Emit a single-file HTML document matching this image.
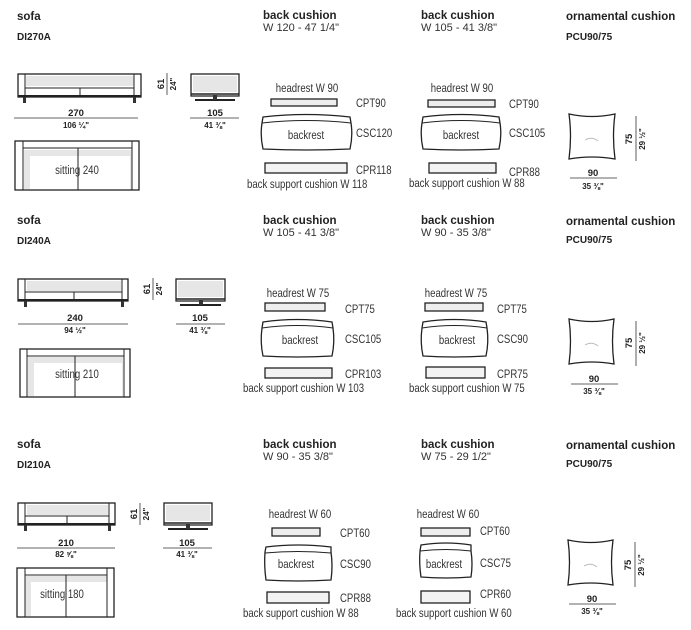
<!DOCTYPE html>
<html><head><meta charset="utf-8"><style>
html,body{margin:0;padding:0;background:#fff;}
svg{display:block;}
.h{font-family:"Liberation Sans",Arial,sans-serif;font-weight:bold;font-size:11.5px;fill:#222;}
.s{font-family:"Liberation Sans",Arial,sans-serif;font-size:11px;fill:#333;}
.n{font-family:"Liberation Sans",sans-serif;font-size:12px;fill:#333;}
.d{font-family:"Liberation Sans",Arial,sans-serif;font-weight:bold;font-size:9.5px;fill:#222;}
.ds{font-family:"Liberation Sans",Arial,sans-serif;font-weight:bold;font-size:8px;fill:#222;}
.o{fill:#fff;stroke:#222;stroke-width:1.3;}
.t{fill:none;stroke:#222;stroke-width:1;}
.g{fill:#e6e6e6;}
</style></head><body>
<svg width="691" height="630" viewBox="0 0 691 630" xmlns="http://www.w3.org/2000/svg">

<!-- ================= ROW 1 ================= -->
<text class="h" x="17" y="20">sofa</text>
<text class="d" x="17" y="40" style="font-size:10px">DI270A</text>
<rect x="18" y="74" width="123" height="23" class="o"/>
<rect x="26" y="76" width="108" height="10" class="g"/>
<line x1="25" y1="74" x2="25" y2="96" class="t" stroke-width="1.5"/>
<line x1="134" y1="74" x2="134" y2="96" class="t" stroke-width="1.5"/>
<line x1="25" y1="88" x2="134" y2="88" class="t"/>
<line x1="80" y1="88" x2="80" y2="95" class="t"/>
<line x1="18" y1="96" x2="141" y2="96" stroke="#222" stroke-width="2"/>
<rect x="23" y="97" width="3" height="6" fill="#333"/><rect x="133" y="97" width="3" height="6" fill="#333"/>
<line x1="14" y1="118" x2="138" y2="118" stroke="#333" stroke-width="0.8"/>
<text class="d" x="76" y="116" text-anchor="middle">270</text>
<text class="ds" x="76" y="128" text-anchor="middle">106 ¼"</text>
<line x1="167" y1="73" x2="167" y2="95" stroke="#333" stroke-width="0.8"/>
<text class="d" transform="translate(164,84) rotate(-90)" text-anchor="middle">61</text>
<text class="ds" transform="translate(176,84) rotate(-90)" text-anchor="middle">24"</text>
<rect x="191" y="74" width="48" height="22" class="o"/>
<rect x="193" y="76" width="44" height="16" class="g"/>
<line x1="191" y1="94" x2="239" y2="94" stroke="#222" stroke-width="1.5"/>
<line x1="195" y1="100" x2="235" y2="100" stroke="#222" stroke-width="2"/>
<rect x="213" y="95" width="4" height="5" fill="#333"/>
<line x1="190" y1="118" x2="239" y2="118" stroke="#333" stroke-width="0.8"/>
<text class="d" x="215" y="116" text-anchor="middle">105</text>
<text class="ds" x="215" y="128" text-anchor="middle">41 ⅜"</text>
<rect x="15" y="141" width="124" height="49" class="o"/>
<rect x="24" y="150" width="108" height="39" class="g"/>
<rect x="30" y="156" width="100" height="33" fill="#fff"/>
<line x1="23" y1="141" x2="23" y2="190" class="t" stroke-width="1.5"/>
<line x1="132" y1="141" x2="132" y2="190" class="t" stroke-width="1.5"/>
<line x1="23" y1="148" x2="132" y2="148" class="t"/>
<line x1="78" y1="148" x2="78" y2="190" class="t" stroke-width="1.3"/>
<text class="n" x="77" y="174" text-anchor="middle" transform="matrix(0.8 0 0 1 15.4 0)">sitting 240</text>

<text class="h" x="263" y="19">back cushion</text>
<text class="s" x="263" y="31">W 120 - 47 1/4"</text>
<text class="n" x="307" y="92" text-anchor="middle" transform="matrix(0.8 0 0 1 61.4 0)">headrest W 90</text>
<rect x="271" y="99" width="66" height="7" class="o" style="fill:#eee"/>
<path class="o" d="M263,117 Q306,112 350,117 L351,123 Q353,136 350,149 Q306,151 263,149 Q260,136 262,123 Z"/>
<path class="t" d="M262,123 Q306,118 351,123"/>
<text class="n" x="306" y="139" text-anchor="middle" transform="matrix(0.8 0 0 1 61.2 0)">backrest</text>
<rect x="265" y="163" width="82" height="10" class="o" style="fill:#f3f3f3"/>
<text class="n" x="247" y="188" transform="matrix(0.8 0 0 1 49.4 0)">back support cushion W 118</text>
<text class="n" x="356" y="107" transform="matrix(0.8 0 0 1 71.2 0)">CPT90</text>
<text class="n" x="356" y="137" transform="matrix(0.8 0 0 1 71.2 0)">CSC120</text>
<text class="n" x="356" y="174" transform="matrix(0.8 0 0 1 71.2 0)">CPR118</text>

<text class="h" x="421" y="19">back cushion</text>
<text class="s" x="421" y="31">W 105 - 41 3/8"</text>
<text class="n" x="462" y="92" text-anchor="middle" transform="matrix(0.8 0 0 1 92.4 0)">headrest W 90</text>
<rect x="428" y="100" width="67" height="7" class="o" style="fill:#eee"/>
<path class="o" d="M423,117 Q461,112 499,117 L500,123 Q502,136 499,149 Q461,151 423,149 Q420,136 422,123 Z"/>
<path class="t" d="M422,123 Q461,118 500,123"/>
<text class="n" x="461" y="139" text-anchor="middle" transform="matrix(0.8 0 0 1 92.2 0)">backrest</text>
<rect x="429" y="163" width="67" height="10" class="o" style="fill:#f3f3f3"/>
<text class="n" x="409" y="187" transform="matrix(0.8 0 0 1 81.8 0)">back support cushion W 88</text>
<text class="n" x="509" y="108" transform="matrix(0.8 0 0 1 101.8 0)">CPT90</text>
<text class="n" x="509" y="137" transform="matrix(0.8 0 0 1 101.8 0)">CSC105</text>
<text class="n" x="509" y="176" transform="matrix(0.8 0 0 1 101.8 0)">CPR88</text>

<text class="h" x="566" y="20">ornamental cushion</text>
<text class="d" x="566" y="40" style="font-size:10px">PCU90/75</text>
<path class="o" d="M569,114 Q592,119 615,114 Q612,136 615,159 Q592,155 569,159 Q572,136 569,114 Z"/>
<path d="M585,140 Q592,136 598,141" stroke="#bbb" fill="none"/>
<line x1="636" y1="116" x2="636" y2="161" stroke="#333" stroke-width="0.8"/>
<text class="d" transform="translate(632,139) rotate(-90)" text-anchor="middle">75</text>
<text class="ds" transform="translate(645,139) rotate(-90)" text-anchor="middle">29 ½"</text>
<line x1="570" y1="178" x2="617" y2="178" stroke="#333" stroke-width="0.8"/>
<text class="d" x="593" y="176" text-anchor="middle">90</text>
<text class="ds" x="593" y="189" text-anchor="middle">35 ⅜"</text>

<!-- ================= ROW 2 ================= -->
<text class="h" x="17" y="224">sofa</text>
<text class="d" x="17" y="244" style="font-size:10px">DI240A</text>
<rect x="18" y="279" width="110" height="22" class="o"/>
<rect x="27" y="281" width="94" height="10" class="g"/>
<line x1="25" y1="279" x2="25" y2="300" class="t" stroke-width="1.5"/>
<line x1="122" y1="279" x2="122" y2="300" class="t" stroke-width="1.5"/>
<line x1="25" y1="292" x2="122" y2="292" class="t"/>
<line x1="74" y1="292" x2="74" y2="299" class="t"/>
<line x1="18" y1="300" x2="128" y2="300" stroke="#222" stroke-width="2"/>
<rect x="24" y="301" width="3" height="6" fill="#333"/><rect x="121" y="301" width="3" height="6" fill="#333"/>
<line x1="18" y1="324" x2="128" y2="324" stroke="#333" stroke-width="0.8"/>
<text class="d" x="75" y="321" text-anchor="middle">240</text>
<text class="ds" x="75" y="333" text-anchor="middle">94 ½"</text>
<line x1="153" y1="278" x2="153" y2="300" stroke="#333" stroke-width="0.8"/>
<text class="d" transform="translate(150,289) rotate(-90)" text-anchor="middle">61</text>
<text class="ds" transform="translate(162,289) rotate(-90)" text-anchor="middle">24"</text>
<rect x="176" y="279" width="49" height="22" class="o"/>
<rect x="178" y="281" width="45" height="16" class="g"/>
<line x1="176" y1="299" x2="225" y2="299" stroke="#222" stroke-width="1.5"/>
<line x1="180" y1="305" x2="221" y2="305" stroke="#222" stroke-width="2"/>
<rect x="199" y="300" width="4" height="5" fill="#333"/>
<line x1="176" y1="324" x2="225" y2="324" stroke="#333" stroke-width="0.8"/>
<text class="d" x="200" y="321" text-anchor="middle">105</text>
<text class="ds" x="200" y="333" text-anchor="middle">41 ⅜"</text>
<rect x="20" y="349" width="110" height="48" class="o"/>
<rect x="28" y="357" width="95" height="39" class="g"/>
<rect x="34" y="363" width="88" height="33" fill="#fff"/>
<line x1="27" y1="349" x2="27" y2="397" class="t" stroke-width="1.5"/>
<line x1="124" y1="349" x2="124" y2="397" class="t" stroke-width="1.5"/>
<line x1="27" y1="356" x2="124" y2="356" class="t"/>
<line x1="75" y1="356" x2="75" y2="397" class="t" stroke-width="1.3"/>
<text class="n" x="77" y="378" text-anchor="middle" transform="matrix(0.8 0 0 1 15.4 0)">sitting 210</text>

<text class="h" x="263" y="224">back cushion</text>
<text class="s" x="263" y="236">W 105 - 41 3/8"</text>
<text class="n" x="298" y="297" text-anchor="middle" transform="matrix(0.8 0 0 1 59.6 0)">headrest W 75</text>
<rect x="265" y="303" width="60" height="8" class="o" style="fill:#eee"/>
<path class="o" d="M263,322 Q297,317 332,322 L333,328 Q335,342 332,356 Q297,358 263,356 Q260,342 262,328 Z"/>
<path class="t" d="M262,328 Q297,323 333,328"/>
<text class="n" x="300" y="344" text-anchor="middle" transform="matrix(0.8 0 0 1 60 0)">backrest</text>
<rect x="265" y="368" width="67" height="10" class="o" style="fill:#f3f3f3"/>
<text class="n" x="243" y="392" transform="matrix(0.8 0 0 1 48.6 0)">back support cushion W 103</text>
<text class="n" x="345" y="313" transform="matrix(0.8 0 0 1 69 0)">CPT75</text>
<text class="n" x="345" y="343" transform="matrix(0.8 0 0 1 69 0)">CSC105</text>
<text class="n" x="345" y="378" transform="matrix(0.8 0 0 1 69 0)">CPR103</text>

<text class="h" x="421" y="224">back cushion</text>
<text class="s" x="421" y="236">W 90 - 35 3/8"</text>
<text class="n" x="456" y="297" text-anchor="middle" transform="matrix(0.8 0 0 1 91.2 0)">headrest W 75</text>
<rect x="425" y="303" width="58" height="8" class="o" style="fill:#eee"/>
<path class="o" d="M423,322 Q454,317 486,322 L487,328 Q489,342 486,356 Q454,358 423,356 Q420,342 422,328 Z"/>
<path class="t" d="M422,328 Q454,323 487,328"/>
<text class="n" x="457" y="344" text-anchor="middle" transform="matrix(0.8 0 0 1 91.4 0)">backrest</text>
<rect x="426" y="367" width="59" height="11" class="o" style="fill:#f3f3f3"/>
<text class="n" x="409" y="392" transform="matrix(0.8 0 0 1 81.8 0)">back support cushion W 75</text>
<text class="n" x="497" y="313" transform="matrix(0.8 0 0 1 99.4 0)">CPT75</text>
<text class="n" x="497" y="343" transform="matrix(0.8 0 0 1 99.4 0)">CSC90</text>
<text class="n" x="497" y="378" transform="matrix(0.8 0 0 1 99.4 0)">CPR75</text>

<text class="h" x="566" y="225">ornamental cushion</text>
<text class="d" x="566" y="243" style="font-size:10px">PCU90/75</text>
<path class="o" d="M569,319 Q592,324 614,319 Q611,341 614,364 Q592,360 569,364 Q572,341 569,319 Z"/>
<path d="M585,345 Q592,341 598,346" stroke="#bbb" fill="none"/>
<line x1="636" y1="321" x2="636" y2="366" stroke="#333" stroke-width="0.8"/>
<text class="d" transform="translate(632,343) rotate(-90)" text-anchor="middle">75</text>
<text class="ds" transform="translate(645,343) rotate(-90)" text-anchor="middle">29 ½"</text>
<line x1="571" y1="384" x2="618" y2="384" stroke="#333" stroke-width="0.8"/>
<text class="d" x="594" y="382" text-anchor="middle">90</text>
<text class="ds" x="594" y="394" text-anchor="middle">35 ⅜"</text>

<!-- ================= ROW 3 ================= -->
<text class="h" x="17" y="448">sofa</text>
<text class="d" x="17" y="468" style="font-size:10px">DI210A</text>
<rect x="18" y="503" width="97" height="22" class="o"/>
<rect x="27" y="505" width="81" height="10" class="g"/>
<line x1="25" y1="503" x2="25" y2="524" class="t" stroke-width="1.5"/>
<line x1="109" y1="503" x2="109" y2="524" class="t" stroke-width="1.5"/>
<line x1="25" y1="516" x2="109" y2="516" class="t"/>
<line x1="67" y1="516" x2="67" y2="523" class="t"/>
<line x1="18" y1="524" x2="115" y2="524" stroke="#222" stroke-width="2"/>
<rect x="24" y="525" width="3" height="6" fill="#333"/><rect x="108" y="525" width="3" height="6" fill="#333"/>
<line x1="17" y1="548" x2="115" y2="548" stroke="#333" stroke-width="0.8"/>
<text class="d" x="66" y="546" text-anchor="middle">210</text>
<text class="ds" x="66" y="557" text-anchor="middle">82 ⅝"</text>
<line x1="140" y1="503" x2="140" y2="525" stroke="#333" stroke-width="0.8"/>
<text class="d" transform="translate(137,514) rotate(-90)" text-anchor="middle">61</text>
<text class="ds" transform="translate(149,514) rotate(-90)" text-anchor="middle">24"</text>
<rect x="164" y="503" width="48" height="22" class="o"/>
<rect x="166" y="505" width="44" height="16" class="g"/>
<line x1="164" y1="523" x2="212" y2="523" stroke="#222" stroke-width="1.5"/>
<line x1="168" y1="529" x2="208" y2="529" stroke="#222" stroke-width="2"/>
<rect x="186" y="524" width="4" height="5" fill="#333"/>
<line x1="163" y1="548" x2="212" y2="548" stroke="#333" stroke-width="0.8"/>
<text class="d" x="187" y="546" text-anchor="middle">105</text>
<text class="ds" x="187" y="557" text-anchor="middle">41 ⅜"</text>
<rect x="17" y="568" width="97" height="49" class="o"/>
<rect x="25" y="576" width="82" height="40" class="g"/>
<rect x="31" y="582" width="76" height="34" fill="#fff"/>
<line x1="25" y1="568" x2="25" y2="617" class="t" stroke-width="1.5"/>
<line x1="107" y1="568" x2="107" y2="617" class="t" stroke-width="1.5"/>
<line x1="25" y1="575" x2="107" y2="575" class="t"/>
<line x1="66" y1="575" x2="66" y2="617" class="t" stroke-width="1.3"/>
<text class="n" x="62" y="598" text-anchor="middle" transform="matrix(0.8 0 0 1 12.4 0)">sitting 180</text>

<text class="h" x="263" y="448">back cushion</text>
<text class="s" x="263" y="460">W 90 - 35 3/8"</text>
<text class="n" x="300" y="518" text-anchor="middle" transform="matrix(0.8 0 0 1 60 0)">headrest W 60</text>
<rect x="272" y="528" width="48" height="8" class="o" style="fill:#eee"/>
<path class="o" d="M266,547 Q298,543 331,547 L331,552 Q333,566 331,580 Q298,582 266,580 Q264,566 265,552 Z"/>
<path class="t" d="M265,553 Q298,550 331,553"/>
<text class="n" x="296" y="568" text-anchor="middle" transform="matrix(0.8 0 0 1 59.2 0)">backrest</text>
<rect x="267" y="592" width="62" height="11" class="o" style="fill:#f3f3f3"/>
<text class="n" x="243" y="617" transform="matrix(0.8 0 0 1 48.6 0)">back support cushion W 88</text>
<text class="n" x="340" y="537" transform="matrix(0.8 0 0 1 68 0)">CPT60</text>
<text class="n" x="340" y="568" transform="matrix(0.8 0 0 1 68 0)">CSC90</text>
<text class="n" x="340" y="602" transform="matrix(0.8 0 0 1 68 0)">CPR88</text>

<text class="h" x="421" y="448">back cushion</text>
<text class="s" x="421" y="460">W 75 - 29 1/2"</text>
<text class="n" x="448" y="518" text-anchor="middle" transform="matrix(0.8 0 0 1 89.6 0)">headrest W 60</text>
<rect x="421" y="528" width="49" height="8" class="o" style="fill:#eee"/>
<path class="o" d="M421,545 Q446,541 471,545 L471,551 Q473,564 471,577 Q446,579 421,577 Q419,564 420,551 Z"/>
<path class="t" d="M420,551 Q446,548 471,551"/>
<text class="n" x="444" y="568" text-anchor="middle" transform="matrix(0.8 0 0 1 88.8 0)">backrest</text>
<rect x="421" y="591" width="49" height="12" class="o" style="fill:#f3f3f3"/>
<text class="n" x="396" y="617" transform="matrix(0.8 0 0 1 79.2 0)">back support cushion W 60</text>
<text class="n" x="480" y="535" transform="matrix(0.8 0 0 1 96 0)">CPT60</text>
<text class="n" x="480" y="567" transform="matrix(0.8 0 0 1 96 0)">CSC75</text>
<text class="n" x="480" y="598" transform="matrix(0.8 0 0 1 96 0)">CPR60</text>

<text class="h" x="566" y="449">ornamental cushion</text>
<text class="d" x="566" y="467" style="font-size:10px">PCU90/75</text>
<path class="o" d="M568,540 Q591,545 613,540 Q610,562 613,585 Q591,581 568,585 Q571,562 568,540 Z"/>
<path d="M584,566 Q591,562 597,567" stroke="#bbb" fill="none"/>
<line x1="635" y1="542" x2="635" y2="587" stroke="#333" stroke-width="0.8"/>
<text class="d" transform="translate(631,565) rotate(-90)" text-anchor="middle">75</text>
<text class="ds" transform="translate(644,565) rotate(-90)" text-anchor="middle">29 ½"</text>
<line x1="569" y1="604" x2="616" y2="604" stroke="#333" stroke-width="0.8"/>
<text class="d" x="592" y="602" text-anchor="middle">90</text>
<text class="ds" x="592" y="614" text-anchor="middle">35 ⅜"</text>
</svg>
</body></html>
